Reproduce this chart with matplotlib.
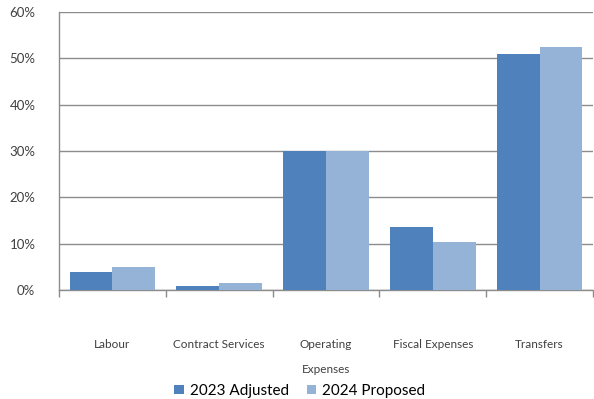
import numpy as np
import matplotlib.pyplot as plt
from matplotlib.ticker import FixedLocator, PercentFormatter

plt.rcParams['font.family'] = ['Lato', 'DejaVu Sans']

# values (percent of total)
categories = ['Labour', 'Contract Services', 'Operating\nExpenses', 'Fiscal Expenses', 'Transfers']
adjusted_2023 = [3.9, 0.9, 30.0, 13.6, 50.9]
proposed_2024 = [4.9, 1.6, 30.0, 10.4, 52.4]
series_names = ['2023 Adjusted', '2024 Proposed']
colors = ['#4F81BD', '#95B3D7']

fig = plt.figure(figsize=(5.94, 3.99), dpi=100)
ax = fig.add_axes([0.0993, 0.2732, 0.899, 0.697])

x = np.arange(len(categories))
w = 0.4
ax.bar(x - w / 2, adjusted_2023, w, color=colors[0], label=series_names[0], zorder=3)
ax.bar(x + w / 2, proposed_2024, w, color=colors[1], label=series_names[1], zorder=3)

ax.set_xlim(-0.5, len(categories) - 0.5)
ax.set_ylim(0, 60)
ax.set_yticks(np.arange(0, 61, 10))
ax.yaxis.set_major_formatter(PercentFormatter(decimals=0))
ax.tick_params(axis='y', length=0, pad=17, labelsize=9.5, labelcolor='#404040')
ax.grid(axis='y', color='#8c8c8c', linewidth=1, zorder=0)

# category labels at centres, tick marks at boundaries
ax.set_xticks(x)
ax.set_xticklabels(categories, fontsize=8.5, color='#404040', linespacing=2.6, va='top')
ax.tick_params(axis='x', which='major', length=0, pad=35)
ax.xaxis.set_minor_locator(FixedLocator(np.arange(-0.5, len(categories), 1)))
ax.tick_params(axis='x', which='minor', length=5, color='#8c8c8c', width=1)

for side in ['top', 'right']:
    ax.spines[side].set_visible(False)
for side in ['left', 'bottom']:
    ax.spines[side].set_color('#8c8c8c')
    ax.spines[side].set_linewidth(1)

fig.legend(loc='center', bbox_to_anchor=(0.505, 0.02), ncol=2, frameon=False,
           fontsize=11, handlelength=0.6, handleheight=0.6, handletextpad=0.4,
           columnspacing=1.2, borderpad=0)

fig.savefig('out.png', dpi=100)
